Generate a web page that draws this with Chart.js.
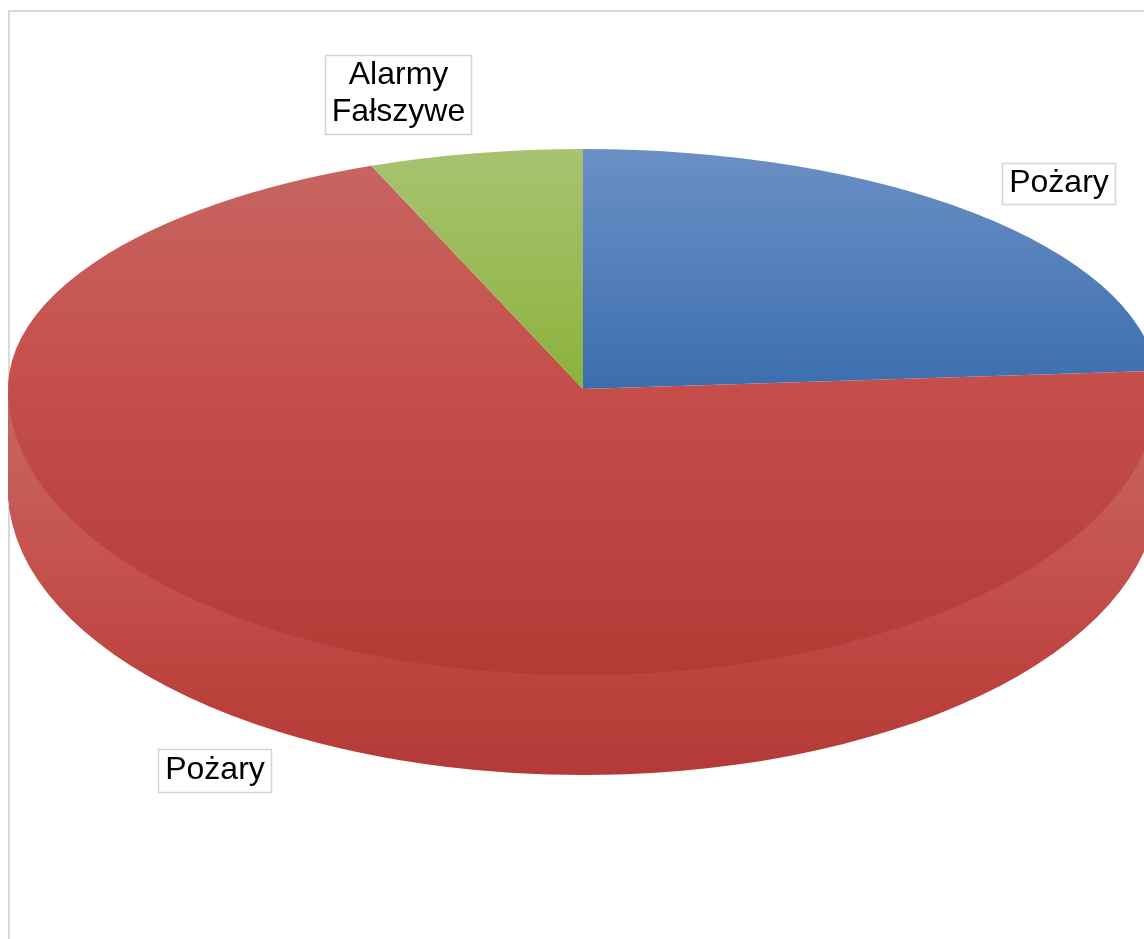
<!DOCTYPE html>
<html lang="pl">
<head>
<meta charset="utf-8">
<title>Pożary i alarmy</title>
<style>
html,body{margin:0;padding:0;background:#fff;overflow:hidden;width:1144px;height:939px}
#frame{position:absolute;left:8px;top:10px;width:1136px;height:929px;border-left:2px solid #d9d9d9;border-top:2px solid #d9d9d9;box-sizing:border-box}
#c{position:absolute;left:0;top:0}
</style>
<script src="https://cdn.jsdelivr.net/npm/chart.js@4"></script>
</head>
<body>
<div id="frame"></div>
<canvas id="c" width="1144" height="939"></canvas>
<script>
// data
const categories = ['Pożary', 'Pożary', 'Alarmy\nFałszywe'];
const values = [23.8, 70.2, 6.0];

// style
const topColors = [
  ['rgb(107,144,197)', 'rgb(60,110,175)', 'rgb(60,110,175)'],
  ['rgb(199,103,99)', 'rgb(197,78,74)', 'rgb(180,58,54)'],
  ['rgb(168,195,113)', 'rgb(140,178,60)', 'rgb(140,178,60)']
];
const wallStops = [[0, 'rgb(198,104,100)'], [0.45, 'rgb(197,82,78)'], [0.72, 'rgb(190,68,64)'], [1, 'rgb(179,58,54)']];
const labelBoxes = [
  {l: 1002, t: 163, r: 1116, b: 205},
  {l: 158, t: 749, r: 272, b: 793},
  {l: 325, t: 55, r: 472, b: 135}
];
const face = {rx: 575, ryUp: 240, ryDown: 286, depth: 100};
const pad = {left: 22, right: 0, top: 0, bottom: 161};

const canvas = document.getElementById('c');
const ctx = canvas.getContext('2d');
const logicalHeight = canvas.height - pad.top - pad.bottom;

const fills = topColors.map(stops => {
  const g = ctx.createLinearGradient(0, 0, 0, logicalHeight);
  stops.forEach((c, i) => g.addColorStop(i / (stops.length - 1), c));
  return g;
});

function squash(c, cx, cy, R, sy) {
  c.translate(cx, cy);
  c.scale(face.rx / R, sy / R);
  c.translate(-cx, -cy);
}

const tiltedPie = {
  id: 'tiltedPie',
  beforeDatasetDraw(chart, args) {
    const c = chart.ctx;
    const W = chart.width, H = chart.height;
    const arc = args.meta.data[0];
    const cx = arc.x, cy = arc.y, R = arc.outerRadius;
    const ctrl = args.meta.controller;

    // side wall: front half of the pie swept down by the depth
    for (let d = 0; d <= face.depth; d++) {
      c.save();
      c.beginPath();
      c.rect(0, cy + d, W, H - cy - d);
      c.clip();
      c.translate(0, d);
      squash(c, cx, cy, R, face.ryDown);
      ctrl.draw();
      c.restore();
    }
    c.save();
    c.globalCompositeOperation = 'source-atop';
    const top = cy, bottom = cy + face.ryDown + face.depth;
    const wg = c.createLinearGradient(0, top, 0, bottom);
    wallStops.forEach(s => wg.addColorStop(s[0], s[1]));
    c.fillStyle = wg;
    c.fillRect(0, 0, W, H);
    c.restore();

    // top face: back half and front half have different foreshortening
    c.save();
    c.beginPath();
    c.rect(0, 0, W, cy);
    c.clip();
    squash(c, cx, cy, R, face.ryUp);
    ctrl.draw();
    c.restore();

    c.save();
    c.beginPath();
    c.rect(0, cy, W, H - cy);
    c.clip();
    squash(c, cx, cy, R, face.ryDown);
    ctrl.draw();
    c.restore();
    return false;
  },
  afterDraw(chart) {
    const c = chart.ctx;
    c.save();
    c.font = '32px "Liberation Sans", Arial, sans-serif';
    c.textAlign = 'center';
    c.textBaseline = 'middle';
    categories.forEach((text, i) => {
      const b = labelBoxes[i];
      c.fillStyle = '#fff';
      c.fillRect(b.l, b.t, b.r - b.l, b.b - b.t);
      c.strokeStyle = '#d4d4d4';
      c.lineWidth = 1.5;
      c.strokeRect(b.l + .5, b.t + .5, b.r - b.l - 1, b.b - b.t - 1);
      c.fillStyle = '#000';
      const lines = text.split('\n');
      const lh = 37;
      const mid = (b.t + b.b) / 2;
      lines.forEach((ln, k) => {
        c.fillText(ln, (b.l + b.r) / 2, mid + (k - (lines.length - 1) / 2) * lh - 1);
      });
    });
    c.restore();
  }
};

new Chart(ctx, {
  type: 'pie',
  data: {
    labels: categories,
    datasets: [{data: values, backgroundColor: fills, borderWidth: 0}]
  },
  options: {
    responsive: false,
    animation: false,
    events: [],
    layout: {padding: pad},
    plugins: {legend: {display: false}, title: {display: false}, tooltip: {enabled: false}}
  },
  plugins: [tiltedPie]
});
</script>
</body>
</html>
